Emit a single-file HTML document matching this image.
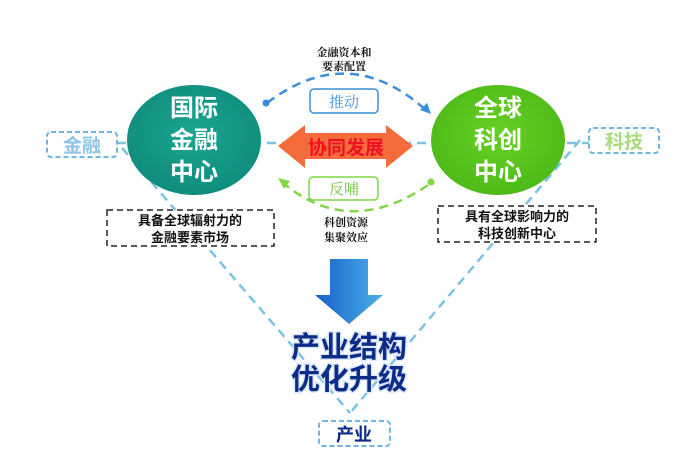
<!DOCTYPE html>
<html><head><meta charset="utf-8"><style>
body{margin:0;background:#fff;}
svg text{font-family:"Liberation Sans","Noto Sans CJK SC",sans-serif;}
svg text.sf{font-family:"Liberation Serif","Noto Serif CJK SC",serif;}
</style></head><body>
<svg width="700" height="454" viewBox="0 0 700 454" xmlns="http://www.w3.org/2000/svg">
<defs>
<radialGradient id="gl" cx="50%" cy="45%" r="60%"><stop offset="0" stop-color="#1aa590"/><stop offset="1" stop-color="#108a7c"/></radialGradient>
<radialGradient id="gr" cx="50%" cy="45%" r="60%"><stop offset="0" stop-color="#66d024"/><stop offset="1" stop-color="#4cb818"/></radialGradient>
<linearGradient id="ba" x1="0" x2="1"><stop offset="0" stop-color="#1a5fc8"/><stop offset="1" stop-color="#4ab0e8"/></linearGradient>
</defs>
<g stroke="#7cc3e0" stroke-width="2.5" stroke-dasharray="9,6" fill="none">
<line x1="117" y1="143" x2="590" y2="143"/>
<line x1="122" y1="148" x2="350" y2="413"/>
<line x1="580" y1="140" x2="350" y2="413"/>
</g>
<path d="M267 103 Q350 40 428 112" stroke="#3a8fd8" stroke-width="2.5" stroke-dasharray="9,6" fill="none"/>
<circle cx="266" cy="103" r="3.5" fill="#3a8fd8"/>
<polygon points="431,114 420,110 427,103" fill="#3a8fd8"/>
<path d="M282 182 Q350 240 431 183" stroke="#7fd646" stroke-width="2.5" stroke-dasharray="9,6" fill="none"/>
<circle cx="431" cy="182" r="3.5" fill="#7fd646"/>
<polygon points="278,178 290,181 284,189" fill="#7fd646"/>
<ellipse cx="194" cy="140" rx="67" ry="55" fill="url(#gl)"/>
<ellipse cx="498" cy="140" rx="67" ry="55" fill="url(#gr)"/>
<g fill="#fff" font-size="24" font-weight="bold" text-anchor="middle">
<text x="194" y="116">国际</text><text x="194" y="148">金融</text><text x="194" y="180">中心</text>
<text x="498" y="116">全球</text><text x="498" y="148">科创</text><text x="498" y="180">中心</text>
</g>
<rect x="47" y="132" width="70" height="25" rx="4" fill="#fff" stroke="#6fb5e0" stroke-width="2" stroke-dasharray="5,3"/>
<text x="82" y="152" font-size="19" font-weight="bold" fill="#8ec4e6" text-anchor="middle">金融</text>
<rect x="589" y="128" width="70" height="25" rx="4" fill="#fff" stroke="#6fb5e0" stroke-width="2" stroke-dasharray="5,3"/>
<text x="624" y="148" font-size="19" font-weight="bold" fill="#a6dc7e" text-anchor="middle">科技</text>
<polygon points="278,146 305,125 305,133 386,133 386,125 413,146 386,168 386,159 305,159 305,168" fill="#f56c3c"/>
<text x="346" y="154" font-size="19" font-weight="bold" fill="#ee1122" text-anchor="middle">协同发展</text>
<rect x="310" y="89" width="68" height="24" rx="4" fill="#fff" stroke="#3a8fd8" stroke-width="1.5"/>
<text class="sf" x="344" y="107" font-size="15" fill="#3a8fd8" text-anchor="middle">推动</text>
<rect x="309" y="177" width="69" height="23" rx="4" fill="#fff" stroke="#7fd646" stroke-width="1.5"/>
<text class="sf" x="344" y="194" font-size="15" fill="#6cc23a" text-anchor="middle">反哺</text>
<g font-size="11" fill="#111" text-anchor="middle" font-weight="bold">
<text class="sf" x="344" y="56">金融资本和</text>
<text class="sf" x="344" y="70">要素配置</text>
<text class="sf" x="346" y="226">科创资源</text>
<text class="sf" x="346" y="241">集聚效应</text>
</g>
<rect x="107" y="210" width="167" height="36" fill="#fff" stroke="#222" stroke-width="1.5" stroke-dasharray="6,4"/>
<text x="190" y="225" font-size="13" font-weight="bold" fill="#111" text-anchor="middle">具备全球辐射力的</text>
<text x="190" y="242" font-size="13" font-weight="bold" fill="#111" text-anchor="middle">金融要素市场</text>
<rect x="438" y="206" width="158" height="36" fill="#fff" stroke="#222" stroke-width="1.5" stroke-dasharray="6,4"/>
<text x="517" y="221" font-size="13" font-weight="bold" fill="#111" text-anchor="middle">具有全球影响力的</text>
<text x="517" y="238" font-size="13" font-weight="bold" fill="#111" text-anchor="middle">科技创新中心</text>
<polygon points="330,259 368,259 368,295 383,295 349,324 315,295 330,295" fill="url(#ba)"/>
<g font-size="29" font-weight="bold" fill="#0c2c86" text-anchor="middle" stroke="#dbe8ff" stroke-width="3" paint-order="stroke">
<text x="349" y="357">产业结构</text>
<text x="349" y="389">优化升级</text>
</g>
<rect x="319" y="421" width="71" height="25" rx="4" fill="#fff" stroke="#6fb5e0" stroke-width="2" stroke-dasharray="5,3"/>
<text x="354" y="441" font-size="18" font-weight="bold" fill="#0c2c86" text-anchor="middle">产业</text>
</svg>
</body></html>
